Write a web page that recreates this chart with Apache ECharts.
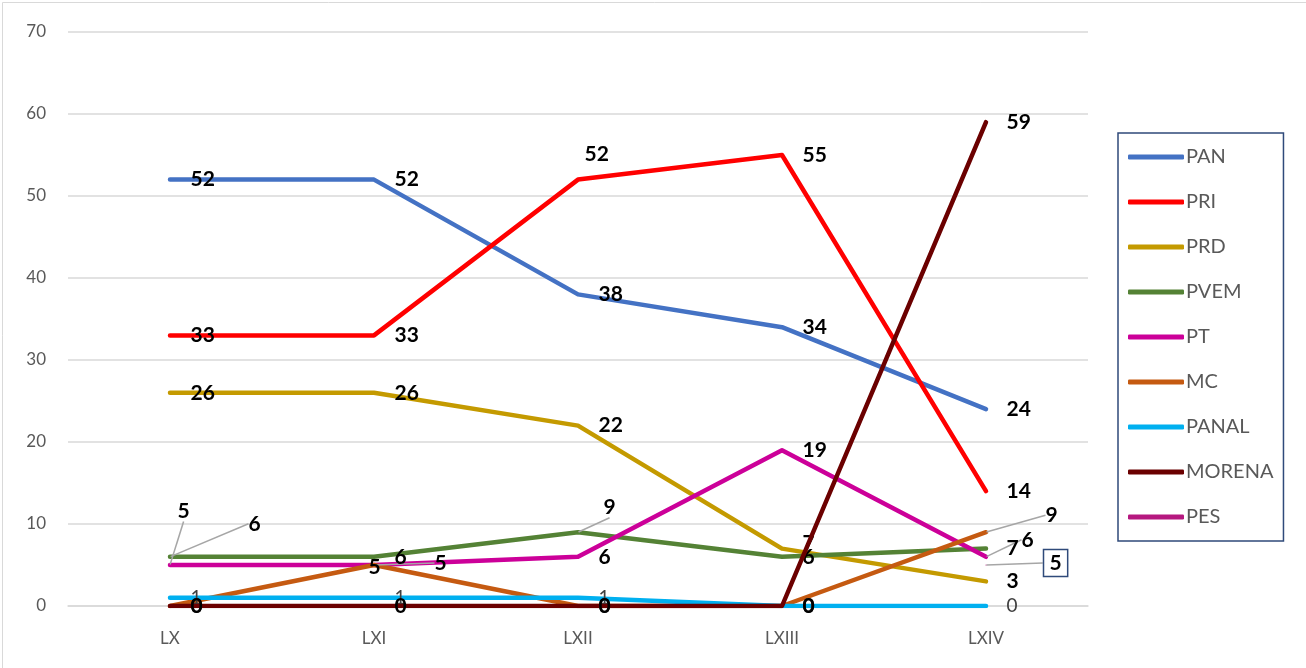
<!DOCTYPE html>
<html>
<head>
<meta charset="utf-8">
<script src="https://cdn.jsdelivr.net/npm/echarts@6/dist/echarts.min.js"></script>
<style>
html,body{margin:0;padding:0;background:#fff;}
#c{width:1306px;height:668px;}
</style>
</head>
<body>
<div id="c"></div>
<script>
// ---- data ----
const categories = ['LX', 'LXI', 'LXII', 'LXIII', 'LXIV'];
const seriesNames = ['PAN', 'PRI', 'PRD', 'PVEM', 'PT', 'MC', 'PANAL', 'MORENA', 'PES'];
const PAN    = [52, 52, 38, 34, 24];
const PRI    = [33, 33, 52, 55, 14];
const PRD    = [26, 26, 22, 7, 3];
const PVEM   = [6, 6, 9, 6, 7];
const PT     = [5, 5, 6, 19, 6];
const MC     = [0, 5, 0, 0, 9];
const PANAL  = [1, 1, 1, 0, 0];
const MORENA = [0, 0, 0, 0, 59];
const PES    = [null, null, null, null, 5];
const yTicks = [0, 10, 20, 30, 40, 50, 60, 70];

// ---- styling ----
const colors = {
  PAN: '#4472C4', PRI: '#FF0000', PRD: '#C49A00', PVEM: '#548235', PT: '#CC0099',
  MC: '#C55A11', PANAL: '#00B0F0', MORENA: '#6B0000', PES: '#B5187F'
};
const values = {PAN, PRI, PRD, PVEM, PT, MC, PANAL, MORENA, PES};
// label nudges (pixels) by series -> dataIndex : [dx, dy, showLeader]
const nudges = {
  PRI:  {2: [-14, -25, false]},
  PRD:  {3: [0, -5, false]},
  PVEM: {0: [58, -33, true], 2: [5, -25, true]},
  PT:   {0: [-13, -54, true], 1: [40, -2, true], 4: [15, -17, true]},
  MC:   {1: [-26, 2, false], 4: [39, -17, true]},
  PES:  {4: [37, -2, true]}
};

const labelFont = 'Lato, "Open Sans", sans-serif';

const series = seriesNames.map(function (name) {
  const isPanal = name === 'PANAL';
  const isPes = name === 'PES';
  const n = nudges[name] || {};
  const data = values[name].map(function (v, i) {
    const d = n[i];
    return {value: v, labelLine: {show: !!(d && d[2])}};
  });
  return {
    name: name,
    type: 'line',
    data: data,
    symbol: 'circle',
    symbolSize: 1,
    showSymbol: true,
    connectNulls: false,
    z: name === 'MORENA' ? 3 : 2,
    itemStyle: {color: colors[name]},
    lineStyle: {width: 4.5, color: colors[name], cap: 'round', join: 'round'},
    label: {
      show: true,
      position: 'right',
      distance: 20,
      color: isPanal ? '#404040' : '#000',
      fontWeight: isPanal ? 'normal' : 'bold',
      fontSize: isPanal ? 19 : 21,
      fontFamily: labelFont,
      borderColor: isPes ? '#2F4A7A' : 'transparent',
      borderWidth: isPes ? 1.5 : 0,
      padding: isPes ? [4, 6, 2, 6] : 0
    },
    labelLine: {
      show: true,
      lineStyle: {color: '#A6A6A6', width: 1.5}
    },
    labelLayout: function (p) {
      const d = n[p.dataIndex];
      if (!d) return {};
      return {dx: d[0], dy: d[1]};
    },
    emphasis: {disabled: true},
    animation: false
  };
});

const chart = echarts.init(document.getElementById('c'), null, {renderer: 'canvas'});
chart.setOption({
  backgroundColor: '#fff',
  animation: false,
  grid: {left: 68, right: 218, top: 32, bottom: 62, containLabel: false},
  xAxis: {
    type: 'category',
    data: categories,
    boundaryGap: true,
    axisLine: {show: true, lineStyle: {color: '#D9D9D9', width: 1.5}},
    axisTick: {show: false},
    axisLabel: {color: '#595959', fontSize: 17, fontFamily: labelFont, margin: 24}
  },
  yAxis: {
    type: 'value',
    min: yTicks[0],
    max: yTicks[yTicks.length - 1],
    interval: yTicks[1] - yTicks[0],
    axisLine: {show: false},
    axisTick: {show: false},
    splitLine: {lineStyle: {color: '#D9D9D9', width: 1.5}},
    axisLabel: {color: '#595959', fontSize: 17, fontFamily: labelFont, margin: 22}
  },
  legend: {
    orient: 'vertical',
    left: 1118,
    top: 133,
    padding: [14, 10, 14, 10],
    borderColor: '#2F4A7A',
    borderWidth: 1.5,
    icon: 'roundRect',
    itemWidth: 56,
    itemHeight: 5,
    itemGap: 25,
    textStyle: {color: '#595959', fontSize: 20, fontFamily: labelFont, width: 103, padding: [0, 0, 0, -3]},
    data: seriesNames
  },
  graphic: [{
    type: 'rect',
    left: 0, top: 0,
    shape: {width: 1305, height: 667},
    style: {fill: 'none', stroke: '#D9D9D9', lineWidth: 1},
    silent: true
  }],
  series: series
});
</script>
</body>
</html>
